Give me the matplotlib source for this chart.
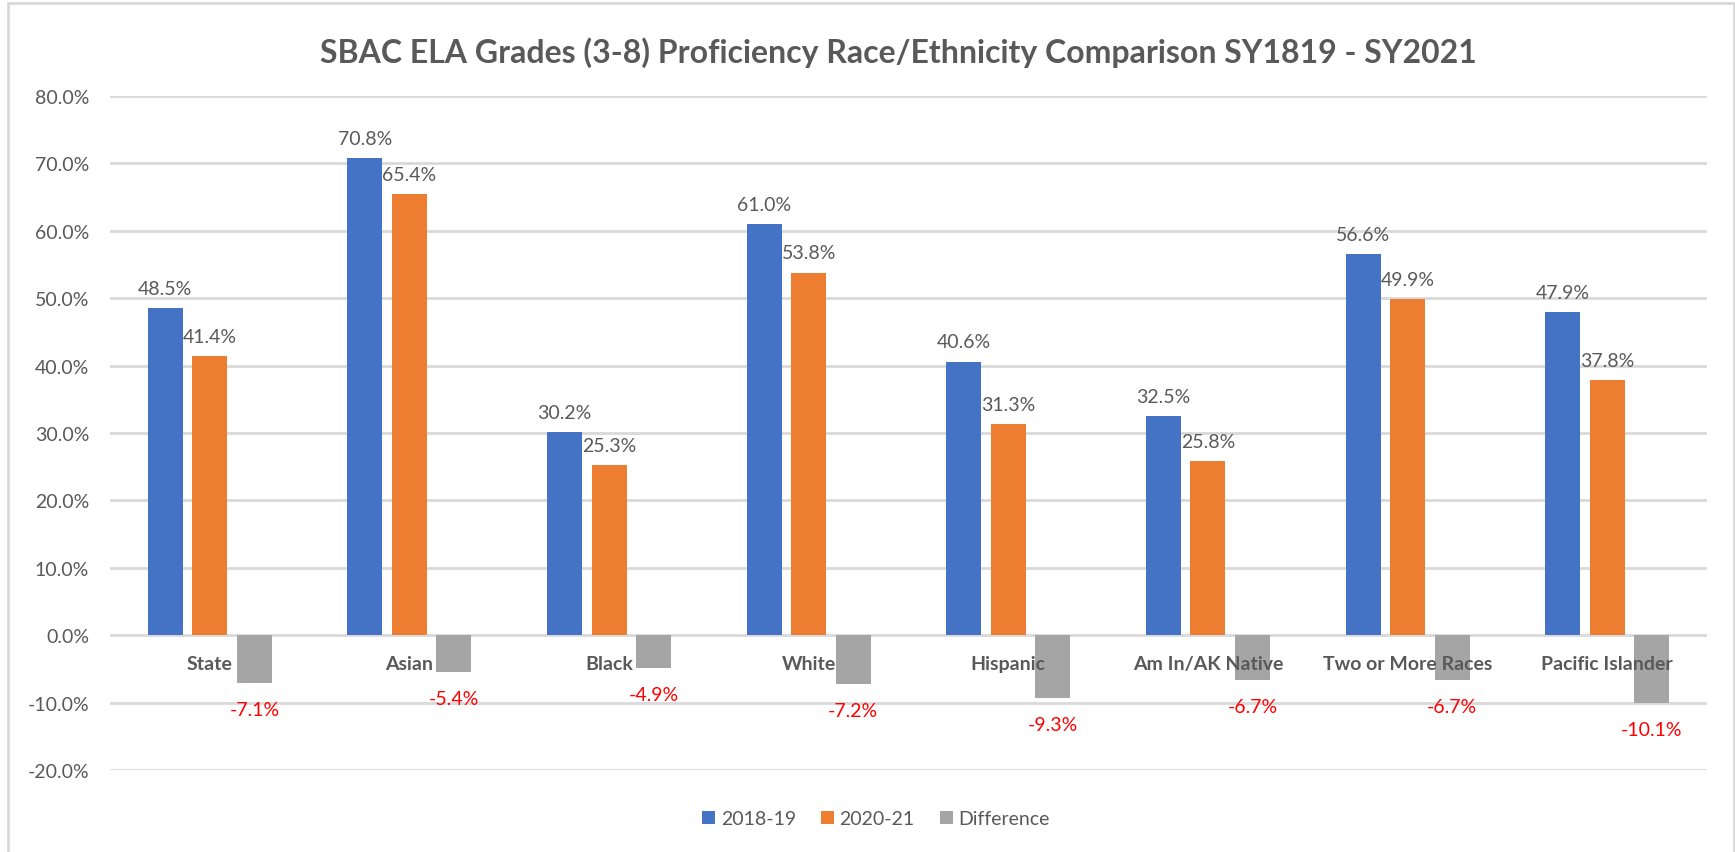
import numpy as np
import matplotlib
matplotlib.use('Agg')
import matplotlib.pyplot as plt
from matplotlib.patches import Rectangle
from matplotlib.ticker import FuncFormatter

plt.rcParams['font.family'] = ['Lato', 'DejaVu Sans']

groups = ['State', 'Asian', 'Black', 'White', 'Hispanic', 'Am In/AK Native',
          'Two or More Races', 'Pacific Islander']
sy1819 = [48.5, 70.8, 30.2, 61.0, 40.6, 32.5, 56.6, 47.9]
sy2021 = [41.4, 65.4, 25.3, 53.8, 31.3, 25.8, 49.9, 37.8]
diff = [-7.1, -5.4, -4.9, -7.2, -9.3, -6.7, -6.7, -10.1]
yticks = [-20, -10, 0, 10, 20, 30, 40, 50, 60, 70, 80]

txt = '#595959'
grid = '#D9D9D9'

fig = plt.figure(figsize=(17.35, 8.53), dpi=100)
ax = fig.add_axes([110/1735, 1-771/853, (1707-110)/1735, (771-97)/853])

x = np.arange(len(groups))
step = 0.223
w = 0.175
b1 = ax.bar(x - step, sy1819, w, color='#4472C4', label='2018-19')
b2 = ax.bar(x, sy2021, w, color='#ED7D31', label='2020-21')
b3 = ax.bar(x + step, diff, w, color='#A5A5A5', label='Difference')

fmt = lambda v: '%.1f%%' % v
ax.bar_label(b1, labels=[fmt(v) for v in sy1819], padding=8, fontsize=14, color=txt)
ax.bar_label(b2, labels=[fmt(v) for v in sy2021], padding=8, fontsize=14, color=txt)
ax.bar_label(b3, labels=[fmt(v) for v in diff], padding=13, fontsize=14, color='#FF0000')

# category labels sit on the zero line, like Excel
for s in ax.spines.values():
    s.set_visible(False)
ax.spines['bottom'].set_position(('data', 0))

ax.set_ylim(-20, 80)
ax.set_xlim(-0.5, len(groups) - 0.5)
ax.set_yticks(yticks)
ax.yaxis.set_major_formatter(FuncFormatter(lambda v, p: '%.1f%%' % v))
ax.set_xticks(x)
ax.set_xticklabels(groups)
ax.tick_params(axis='y', length=0, pad=15, labelsize=14, labelcolor=txt)
ax.tick_params(axis='x', length=0, pad=14, labelsize=14, labelcolor=txt)
for t in ax.get_xticklabels():
    t.set_fontweight('bold')

ax.set_axisbelow(True)
ax.xaxis.set_zorder(2.5)
ax.grid(axis='y', color=grid, linewidth=2)

fig.text(898/1735, 1-53/853, 'SBAC ELA Grades (3-8) Proficiency Race/Ethnicity Comparison SY1819 - SY2021',
         ha='center', va='center', fontsize=23, fontweight='bold', color=txt)

leg = fig.legend(handles=[b1, b2, b3], loc='center', bbox_to_anchor=(876/1735, 1-820/853),
                 ncol=3, frameon=False, fontsize=14, handlelength=0.65, handleheight=0.65,
                 handletextpad=0.3, columnspacing=1.3)
for t in leg.get_texts():
    t.set_color(txt)

# chart border (no bottom edge visible in the original)
fig.add_artist(Rectangle((8/1735, -0.05), (1734-8)/1735, 1.05 - 4/853, transform=fig.transFigure,
                         fill=False, edgecolor=grid, linewidth=2))

fig.savefig('out.png', dpi=100)
